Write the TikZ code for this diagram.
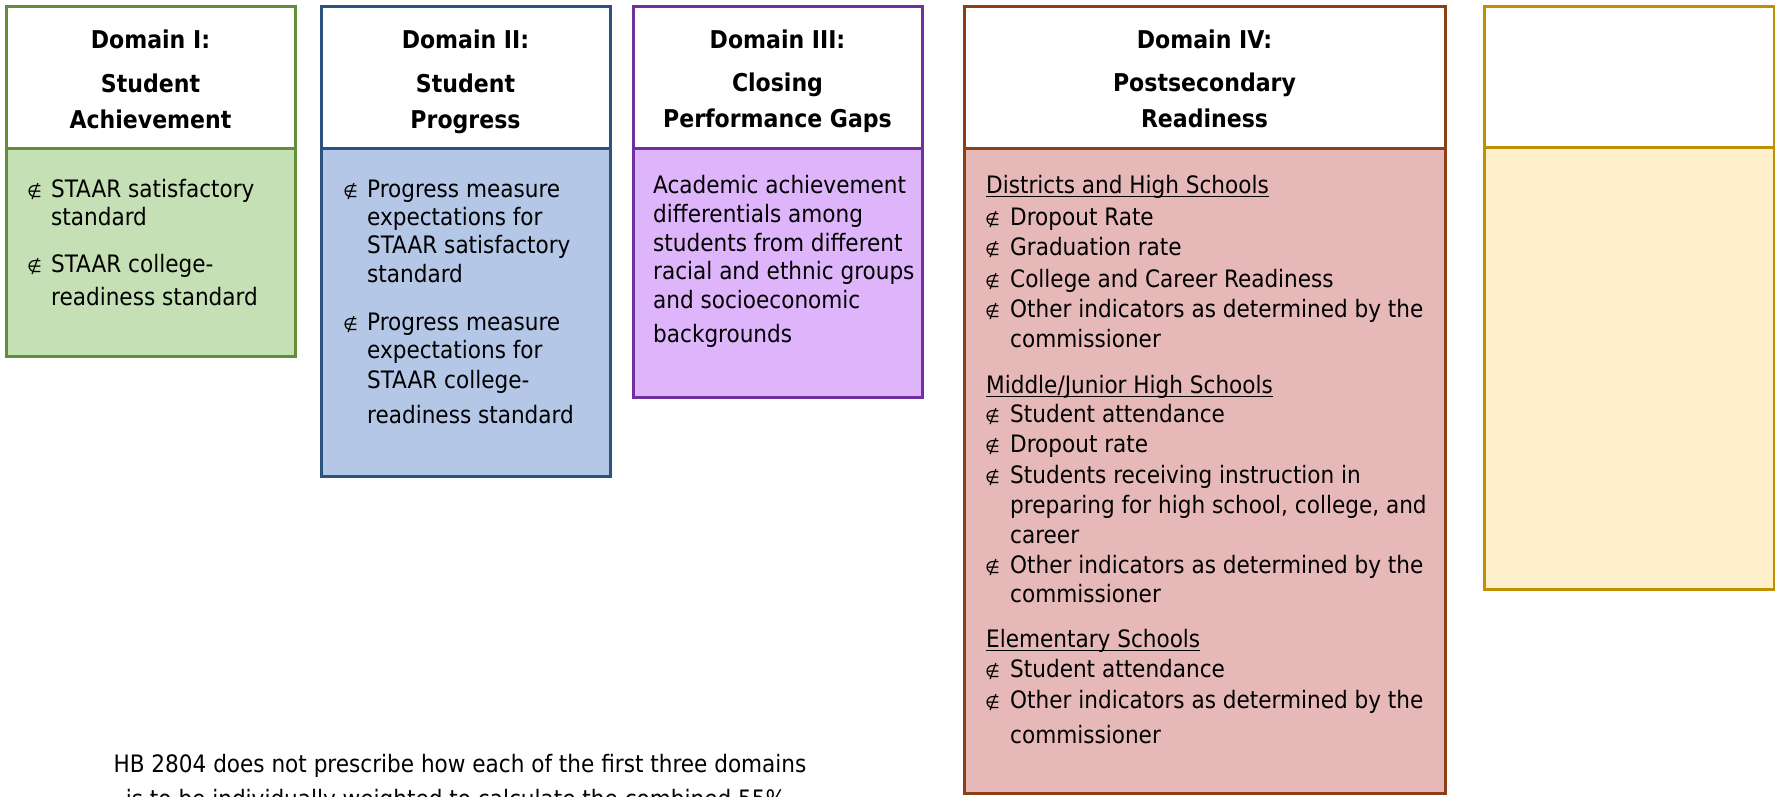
\documentclass[tikz,border=0pt]{standalone}
\usepackage{fontspec}
\setmainfont{DejaVu Sans Condensed}
\newfontfamily\bulfont{DejaVu Sans}
\usetikzlibrary{calc}
\definecolor{gA}{RGB}{98,142,60}
\definecolor{gB}{RGB}{197,224,180}
\definecolor{bA}{RGB}{44,82,128}
\definecolor{bB}{RGB}{180,199,231}
\definecolor{pA}{RGB}{112,48,160}
\definecolor{pB}{RGB}{222,180,251}
\definecolor{rA}{RGB}{140,62,20}
\definecolor{rB}{RGB}{230,184,183}
\definecolor{yA}{RGB}{191,144,0}
\definecolor{yB}{RGB}{255,240,204}
\tikzset{
  boxline/.style={line width=3pt},
  hd/.style={font=\bfseries\fontsize{24.5}{30}\selectfont, anchor=base, inner sep=0pt},
  bd/.style={font=\fontsize{24}{29}\selectfont, anchor=base west, inner sep=0pt},
  bulstyle/.style={font=\bulfont\fontsize{17}{17}\selectfont, anchor=base west, inner sep=0pt},
}
\newcommand{\txl}[4]{\node[bd] (#1) at (#2,#3) {#4};}
\newcommand{\bulx}[3]{\node[bulstyle] (#1) at (#2,#3) {∉};}
\newcommand{\uline}[1]{\draw[line width=1.3pt] ($(#1.base west)+(0,3.5)$) -- ($(#1.base east)+(0,3.5)$);}
\begin{document}
\begin{tikzpicture}[x=1pt,y=-1pt]
\useasboundingbox (0,0) rectangle (1775,796);
\clip (0,0) rectangle (1775,796);
% boxes
\draw[boxline, draw=gA, fill=gB] (6,148) rectangle (295,356);
\draw[boxline, draw=gA, fill=white] (6,6) rectangle (295,148);
\draw[boxline, draw=bA, fill=bB] (321,148) rectangle (610,476);
\draw[boxline, draw=bA, fill=white] (321,6) rectangle (610,148);
\draw[boxline, draw=pA, fill=pB] (633,148) rectangle (922,397);
\draw[boxline, draw=pA, fill=white] (633,6) rectangle (922,148);
\draw[boxline, draw=rA, fill=rB] (964,148) rectangle (1445,793);
\draw[boxline, draw=rA, fill=white] (964,6) rectangle (1445,148);
\draw[boxline, draw=yA, fill=yB] (1484,147) rectangle (1774,589);
\draw[boxline, draw=yA, fill=white] (1484,6) rectangle (1774,147);
% headers
\node[hd] (h1a) at (150.5,48) {Domain I:};
\node[hd] (h1b) at (150.5,92) {Student};
\node[hd] (h1c) at (150.5,128) {Achievement};
\node[hd] (h2a) at (465.5,48) {Domain II:};
\node[hd] (h2b) at (465.5,92) {Student};
\node[hd] (h2c) at (465.5,128) {Progress};
\node[hd] (h3a) at (777.5,48) {Domain III:};
\node[hd] (h3b) at (777.5,91) {Closing};
\node[hd] (h3c) at (777.5,127) {Performance Gaps};
\node[hd] (h4a) at (1204.5,48) {Domain IV:};
\node[hd] (h4b) at (1204.5,91) {Postsecondary};
\node[hd] (h4c) at (1204.5,127) {Readiness};
% box 1
\bulx{b1a}{27}{197}\txl{t1a}{51}{197}{STAAR satisfactory}
\txl{t1b}{51}{225}{standard}
\bulx{b1b}{27}{272}\txl{t1c}{51}{272}{STAAR college-}
\txl{t1d}{51}{305}{readiness standard}
% box 2
\bulx{b2a}{343}{197}\txl{t2a}{367}{197}{Progress measure}
\txl{t2b}{367}{225}{expectations for}
\txl{t2c}{367}{253}{STAAR satisfactory}
\txl{t2d}{367}{282}{standard}
\bulx{b2b}{343}{330}\txl{t2e}{367}{330}{Progress measure}
\txl{t2f}{367}{358}{expectations for}
\txl{t2g}{367}{388}{STAAR college-}
\txl{t2h}{367}{423}{readiness standard}
% box 3
\txl{t3a}{653}{193}{Academic achievement}
\txl{t3b}{653}{222}{differentials among}
\txl{t3c}{653}{251}{students from different}
\txl{t3d}{653}{279}{racial and ethnic groups}
\txl{t3e}{653}{308}{and socioeconomic}
\txl{t3f}{653}{342}{backgrounds}
% box 4
\txl{s4a}{986}{193}{Districts and High Schools}\uline{s4a}
\bulx{b4a}{985}{225}\txl{t4a}{1010}{225}{Dropout Rate}
\bulx{b4b}{985}{255}\txl{t4b}{1010}{255}{Graduation rate}
\bulx{b4c}{985}{287}\txl{t4c}{1010}{287}{College and Career Readiness}
\bulx{b4d}{985}{317}\txl{t4d}{1010}{317}{Other indicators as determined by the}
\txl{t4e}{1010}{347}{commissioner}
\txl{s4b}{986}{393}{Middle/Junior High Schools}\uline{s4b}
\bulx{b4e}{985}{422}\txl{t4f}{1010}{422}{Student attendance}
\bulx{b4f}{985}{452}\txl{t4g}{1010}{452}{Dropout rate}
\bulx{b4g}{985}{483}\txl{t4h}{1010}{483}{Students receiving instruction in}
\txl{t4i}{1010}{513}{preparing for high school, college, and}
\txl{t4j}{1010}{543}{career}
\bulx{b4h}{985}{573}\txl{t4k}{1010}{573}{Other indicators as determined by the}
\txl{t4l}{1010}{602}{commissioner}
\txl{s4c}{986}{647}{Elementary Schools}\uline{s4c}
\bulx{b4i}{985}{677}\txl{t4m}{1010}{677}{Student attendance}
\bulx{b4j}{985}{708}\txl{t4n}{1010}{708}{Other indicators as determined by the}
\txl{t4o}{1010}{743}{commissioner}
% note
\node[bd, anchor=base] (n1) at (460,772) {HB 2804 does not prescribe how each of the first three domains};
\node[bd, anchor=base] (n2) at (456,807) {is to be individually weighted to calculate the combined 55\%};
\end{tikzpicture}
\end{document}
